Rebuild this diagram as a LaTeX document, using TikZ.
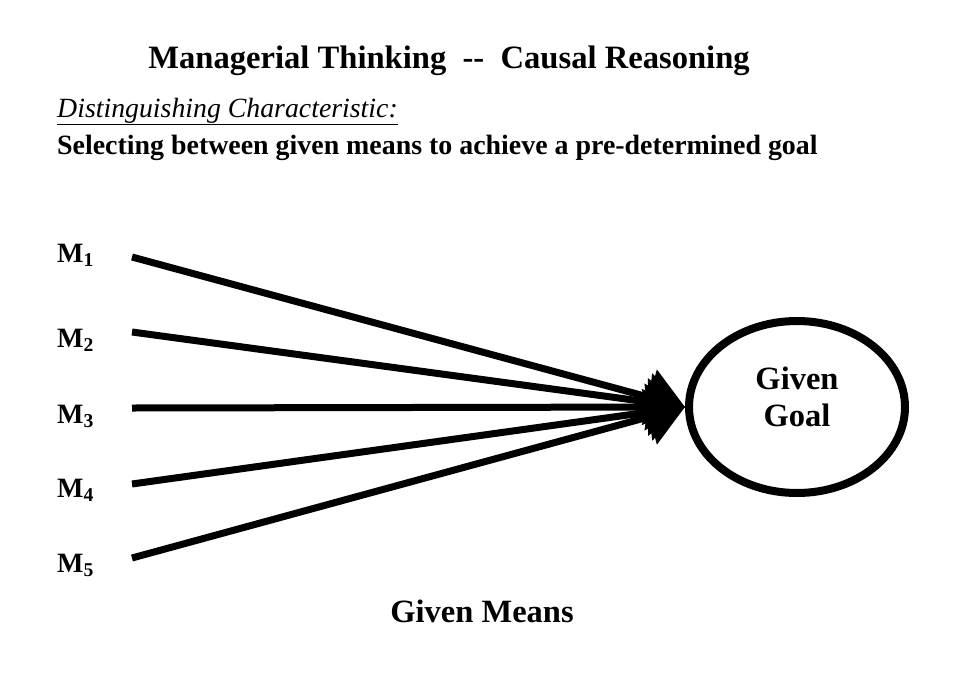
\documentclass[tikz,border=0pt]{standalone}
\usepackage{fontspec}
\setmainfont{Liberation Serif}
\usetikzlibrary{arrows.meta,shapes.geometric}

\begin{document}
\begin{tikzpicture}[x=1pt, y=-1pt,
  txt/.style={inner sep=0pt, anchor=base west},
  mlabel/.style={txt, font=\bfseries\fontsize{28}{30}\selectfont},
  means/.style={line width=7pt, -{Triangle[length=37pt,width=56pt]}}]
\useasboundingbox (0,0) rectangle (956,686);
\node (T) [txt, anchor=base, font=\bfseries\fontsize{32.6}{34}\selectfont] at (449, 68) {Managerial Thinking\ \ -{}-\ \ Causal Reasoning};
\node (D) [txt, font=\itshape\fontsize{27.8}{30}\selectfont] at (57, 117) {\underline{Distinguishing Characteristic:}};
\node (S) [txt, font=\bfseries\fontsize{27.9}{30}\selectfont] at (57, 154) {Selecting between given means to achieve a pre-determined goal};
\node (m1) [mlabel] at (57, 262) {M\textsubscript{1}};
\node (m2) [mlabel] at (57, 347) {M\textsubscript{2}};
\node (m3) [mlabel] at (57, 423) {M\textsubscript{3}};
\node (m4) [mlabel] at (57, 497) {M\textsubscript{4}};
\node (m5) [mlabel] at (57, 572) {M\textsubscript{5}};
\node (goal) [ellipse, draw, line width=8pt, inner sep=0pt, minimum width=216pt, minimum height=172pt,
  align=center, text depth=20pt, font=\bfseries\fontsize{32.5}{37}\selectfont] at (797, 407) {Given\\Goal};
\coordinate (s1) at (132, 257);
\coordinate (s2) at (132, 332);
\coordinate (s3) at (132, 408);
\coordinate (s4) at (132, 484);
\coordinate (s5) at (132, 558);
\draw [means] (s1) to (goal.west);
\draw [means] (s2) to (goal.west);
\draw [means] (s3) to (goal.west);
\draw [means] (s4) to (goal.west);
\draw [means] (s5) to (goal.west);
\node (G) [txt, anchor=base, font=\bfseries\fontsize{32.5}{34}\selectfont] at (482, 622) {Given Means};
\end{tikzpicture}
\end{document}
